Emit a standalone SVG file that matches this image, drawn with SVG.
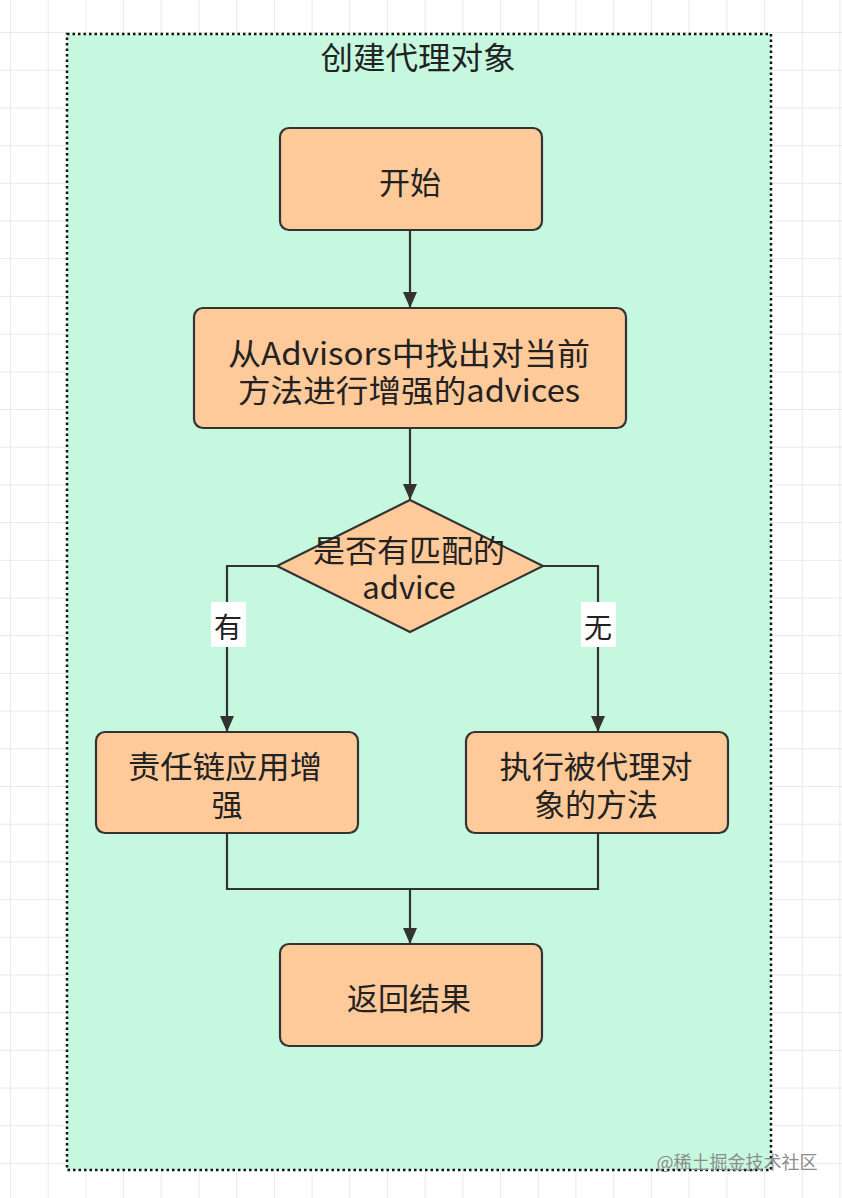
<svg xmlns="http://www.w3.org/2000/svg" width="842" height="1198" viewBox="0 0 842 1198">
  <defs>
    <pattern id="grid" patternUnits="userSpaceOnUse" x="10" y="32" width="37.7" height="37.7">
      <path d="M0,0 H37.7 M0,0 V37.7" fill="none" stroke="#e4e4e4" stroke-width="1.5"/>
    </pattern>
    <marker id="arrow" markerUnits="userSpaceOnUse" markerWidth="16" markerHeight="16" refX="16" refY="7" orient="auto">
      <path d="M0,0 L16,7 L0,14 z" fill="#333"/>
    </marker>
  </defs>
  <style>
    .node { fill: #ffca99; stroke: #333; stroke-width: 2.2; }
    .txt { font-family: "Noto Sans CJK SC", "Noto Sans", sans-serif; font-size: 31px; fill: #222; text-anchor: middle; dominant-baseline: central; }
    .edge { fill: none; stroke: #333; stroke-width: 2.2; }
    .lbl { font-family: "Noto Sans CJK SC", sans-serif; font-size: 28px; fill: #222; text-anchor: middle; dominant-baseline: central; }
  </style>
  <rect width="842" height="1198" fill="#ffffff"/>
  <rect width="842" height="1198" fill="url(#grid)"/>

  <g id="container">
    <rect x="67" y="34" width="704" height="1136" fill="#c6f8df" stroke="#111" stroke-width="2.5" stroke-dasharray="2.5 3"/>
    <text class="txt" x="418" y="55" textLength="195" lengthAdjust="spacingAndGlyphs">创建代理对象</text>
  </g>

  <g id="connectors">
    <path class="edge" d="M410,230 V308" marker-end="url(#arrow)"/>
    <path class="edge" d="M410,428 V500" marker-end="url(#arrow)"/>
    <path class="edge" d="M277,566 H227 V732" marker-end="url(#arrow)"/>
    <path class="edge" d="M543,566 H598 V732" marker-end="url(#arrow)"/>
    <path class="edge" d="M227,833 V889 H598 V833"/>
    <path class="edge" d="M410,889 V944" marker-end="url(#arrow)"/>
    <g id="label-yes">
      <rect x="211" y="602" width="35" height="45" fill="#ffffff"/>
      <text class="lbl" x="228" y="626">有</text>
    </g>
    <g id="label-no">
      <rect x="581" y="602" width="35" height="45" fill="#ffffff"/>
      <text class="lbl" x="598" y="626">无</text>
    </g>
  </g>

  <g id="start">
    <rect class="node" x="280" y="128" width="262" height="102" rx="9"/>
    <text class="txt" x="410" y="180">开始</text>
  </g>

  <g id="find-advices">
    <rect class="node" x="194" y="308" width="432" height="120" rx="9"/>
    <text class="txt"><tspan x="409" y="351" textLength="362" lengthAdjust="spacingAndGlyphs">从Advisors中找出对当前</tspan><tspan x="409" y="388" textLength="342" lengthAdjust="spacingAndGlyphs">方法进行增强的advices</tspan></text>
  </g>

  <g id="decision">
    <polygon class="node" points="410,500 543,566 410,632 277,566"/>
    <text class="txt"><tspan x="409" y="548" textLength="192" lengthAdjust="spacingAndGlyphs">是否有匹配的</tspan><tspan x="409" y="585">advice</tspan></text>
  </g>

  <g id="chain">
    <rect class="node" x="96" y="732" width="262" height="101" rx="9"/>
    <text class="txt"><tspan x="225" y="764" textLength="194" lengthAdjust="spacingAndGlyphs">责任链应用增</tspan><tspan x="227" y="802">强</tspan></text>
  </g>

  <g id="invoke">
    <rect class="node" x="466" y="732" width="262" height="101" rx="9"/>
    <text class="txt"><tspan x="596" y="764" textLength="193" lengthAdjust="spacingAndGlyphs">执行被代理对</tspan><tspan x="596" y="802">象的方法</tspan></text>
  </g>

  <g id="result">
    <rect class="node" x="280" y="944" width="262" height="102" rx="9"/>
    <text class="txt" x="409" y="996">返回结果</text>
  </g>

  <text x="737" y="1161" font-family="Noto Sans CJK SC, sans-serif" font-size="18" fill="#8c8c8c" text-anchor="middle" dominant-baseline="central">@稀土掘金技术社区</text>
</svg>
